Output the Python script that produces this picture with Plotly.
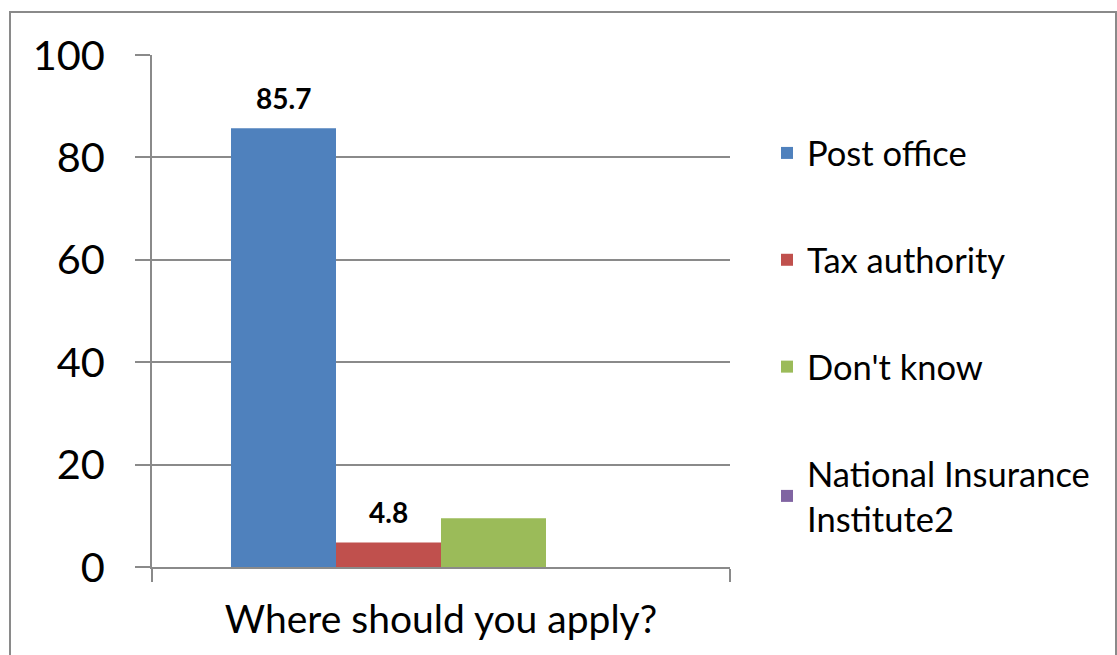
import plotly.graph_objects as go

categories = ["Where should you apply?"]
series_names = ["Post office", "Tax authority", "Don't know", "National Insurance<br>Institute2"]
series_values = [85.7, 4.8, 9.5, 0.0]
series_labels = ["85.7", "4.8", "", ""]
series_colors = ["#4F81BD", "#C0504D", "#9BBB59", "#8064A2"]
y_ticks = [0, 20, 40, 60, 80, 100]

W, H = 1117, 655
L, R, T, B = 152, 730, 55, 567
BARGAP = 1 - 420 / 578

fig = go.Figure()
for i, (name, val, col) in enumerate(zip(series_names, series_values, series_colors)):
    fig.add_trace(go.Bar(
        x=categories, y=[val], name=name, marker=dict(color=col, line=dict(width=0)),
        legendgroup=f"g{i}", hoverinfo="skip",
    ))

n = len(series_values)
for i, (val, lab) in enumerate(zip(series_values, series_labels)):
    if not lab:
        continue
    xc = -0.5 + BARGAP / 2 + (i + 0.5) * (1 - BARGAP) / n
    fig.add_annotation(x=xc, y=val, xref="x", yref="y", text=f"<b>{lab}</b>",
                       showarrow=False, yanchor="middle", yshift=30,
                       font=dict(family="Lato", size=28, color="#000000"))

def px_x(p):
    return (p - L) / (R - L)

def px_y(p):
    return (B - p) / (B - T)

fig.add_shape(type="rect", xref="paper", yref="paper",
              x0=px_x(10), x1=px_x(1116), y0=px_y(700), y1=px_y(12),
              line=dict(color="#8A8A8A", width=2), fillcolor="rgba(0,0,0,0)", layer="below")

fig.update_layout(
    width=W, height=H,
    margin=dict(l=L, r=W - R, t=T, b=H - B, pad=0),
    paper_bgcolor="white", plot_bgcolor="white",
    barmode="group", bargap=BARGAP, bargroupgap=0,
    font=dict(family="Lato", color="#000000"),
    legend=dict(x=px_x(767), xanchor="left", y=px_y(124), yanchor="top",
                font=dict(family="Lato", size=34.5, color="#000000"),
                tracegroupgap=59, bgcolor="rgba(0,0,0,0)"),
    showlegend=True,
)
fig.update_xaxes(range=[-0.5, 0.5], showline=True, linecolor="#8A8A8A", linewidth=1.5,
                 ticks="outside", ticklen=13, tickcolor="#8A8A8A", tickwidth=1.5,
                 tickson="boundaries", showgrid=False, zeroline=False,
                 tickfont=dict(family="Lato", size=39, color="#000000"),
                 ticklabelstandoff=17)
fig.update_yaxes(range=[0, 100], tickvals=y_ticks, showline=True, linecolor="#8A8A8A", linewidth=1.5,
                 ticks="outside", ticklen=15, tickcolor="#8A8A8A", tickwidth=1.5,
                 showgrid=True, gridcolor="#8A8A8A", gridwidth=1.5, zeroline=False,
                 tickfont=dict(family="Lato", size=41.5, color="#000000"),
                 ticklabelstandoff=22)

fig.write_html("out.html")
